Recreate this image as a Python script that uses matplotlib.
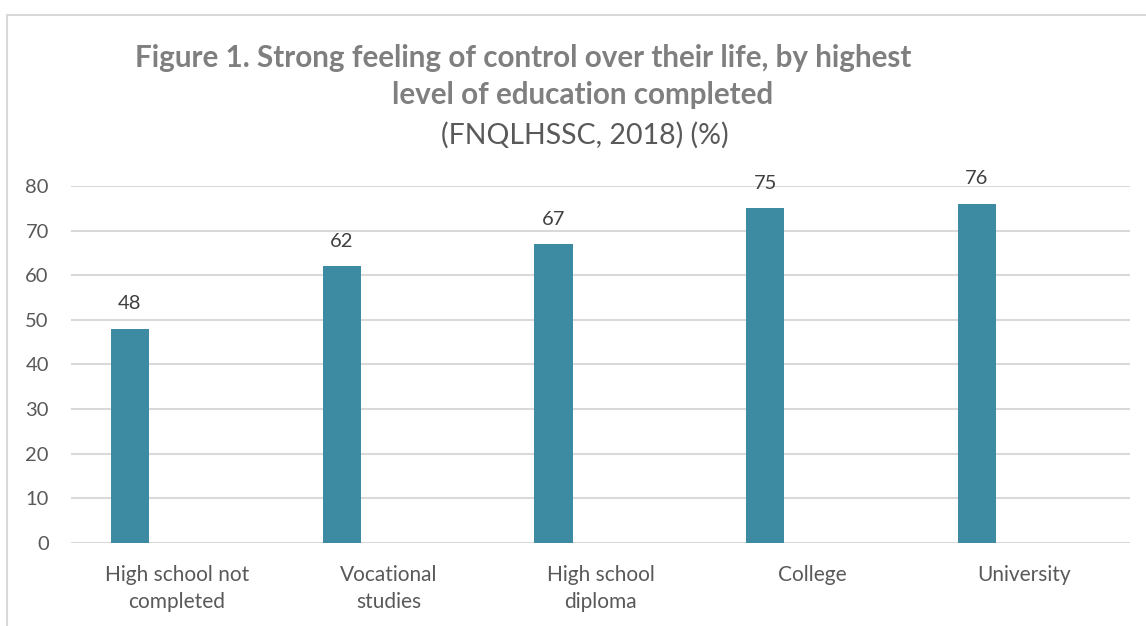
import matplotlib.pyplot as plt
from matplotlib.patches import Rectangle

categories = ["High school not\ncompleted", "Vocational\nstudies", "High school\ndiploma", "College", "University"]
values = [48, 62, 67, 75, 76]
yticks = [0, 10, 20, 30, 40, 50, 60, 70, 80]

plt.rcParams["font.family"] = ["Lato", "DejaVu Sans"]

fig = plt.figure(figsize=(11.46, 6.26), dpi=100)
ax = fig.add_axes([0.062, 0.1326, 0.924, 0.5703])

# chart border (cropped at right/bottom like the source)
fig.add_artist(Rectangle((7 / 1146, -0.05), 1.2, 1 - 15 / 626 + 0.05, transform=fig.transFigure,
                         fill=False, edgecolor="#d9d9d9", linewidth=1.5))

x = list(range(len(categories)))
bar_x = [i - 0.222 for i in x]
bars = ax.bar(bar_x, values, width=0.18, color="#3c8ba3", zorder=3)

for b, v in zip(bars, values):
    ax.text(b.get_x() + b.get_width() / 2, v + 5.6, str(v), ha="center", va="center",
            fontsize=14.5, color="#404040", clip_on=False)

ax.set_xlim(-0.5, len(categories) - 0.5)
ax.set_ylim(0, 80)
ax.set_yticks(yticks)
ax.set_xticks(x)
ax.set_xticklabels(categories, fontsize=15, color="#595959", linespacing=1.45)
ax.tick_params(axis="y", labelsize=14.5, labelcolor="#595959", length=0, pad=16)
ax.tick_params(axis="x", length=0, pad=16)
ax.grid(axis="y", color="#d9d9d9", linewidth=1.5, zorder=0)
for s in ax.spines.values():
    s.set_visible(False)

fig.text(523 / 1146, 1 - 58 / 626, "Figure 1. Strong feeling of control over their life, by highest",
         ha="center", va="center", fontsize=21.3, fontweight="bold", color="#7f7f7f")
fig.text(583 / 1146, 1 - 95 / 626, "level of education completed",
         ha="center", va="center", fontsize=21.3, fontweight="bold", color="#7f7f7f")
fig.text(585 / 1146, 1 - 135 / 626, "(FNQLHSSC, 2018) (%)",
         ha="center", va="center", fontsize=20.5, color="#595959")

fig.savefig("out.png", dpi=100)
